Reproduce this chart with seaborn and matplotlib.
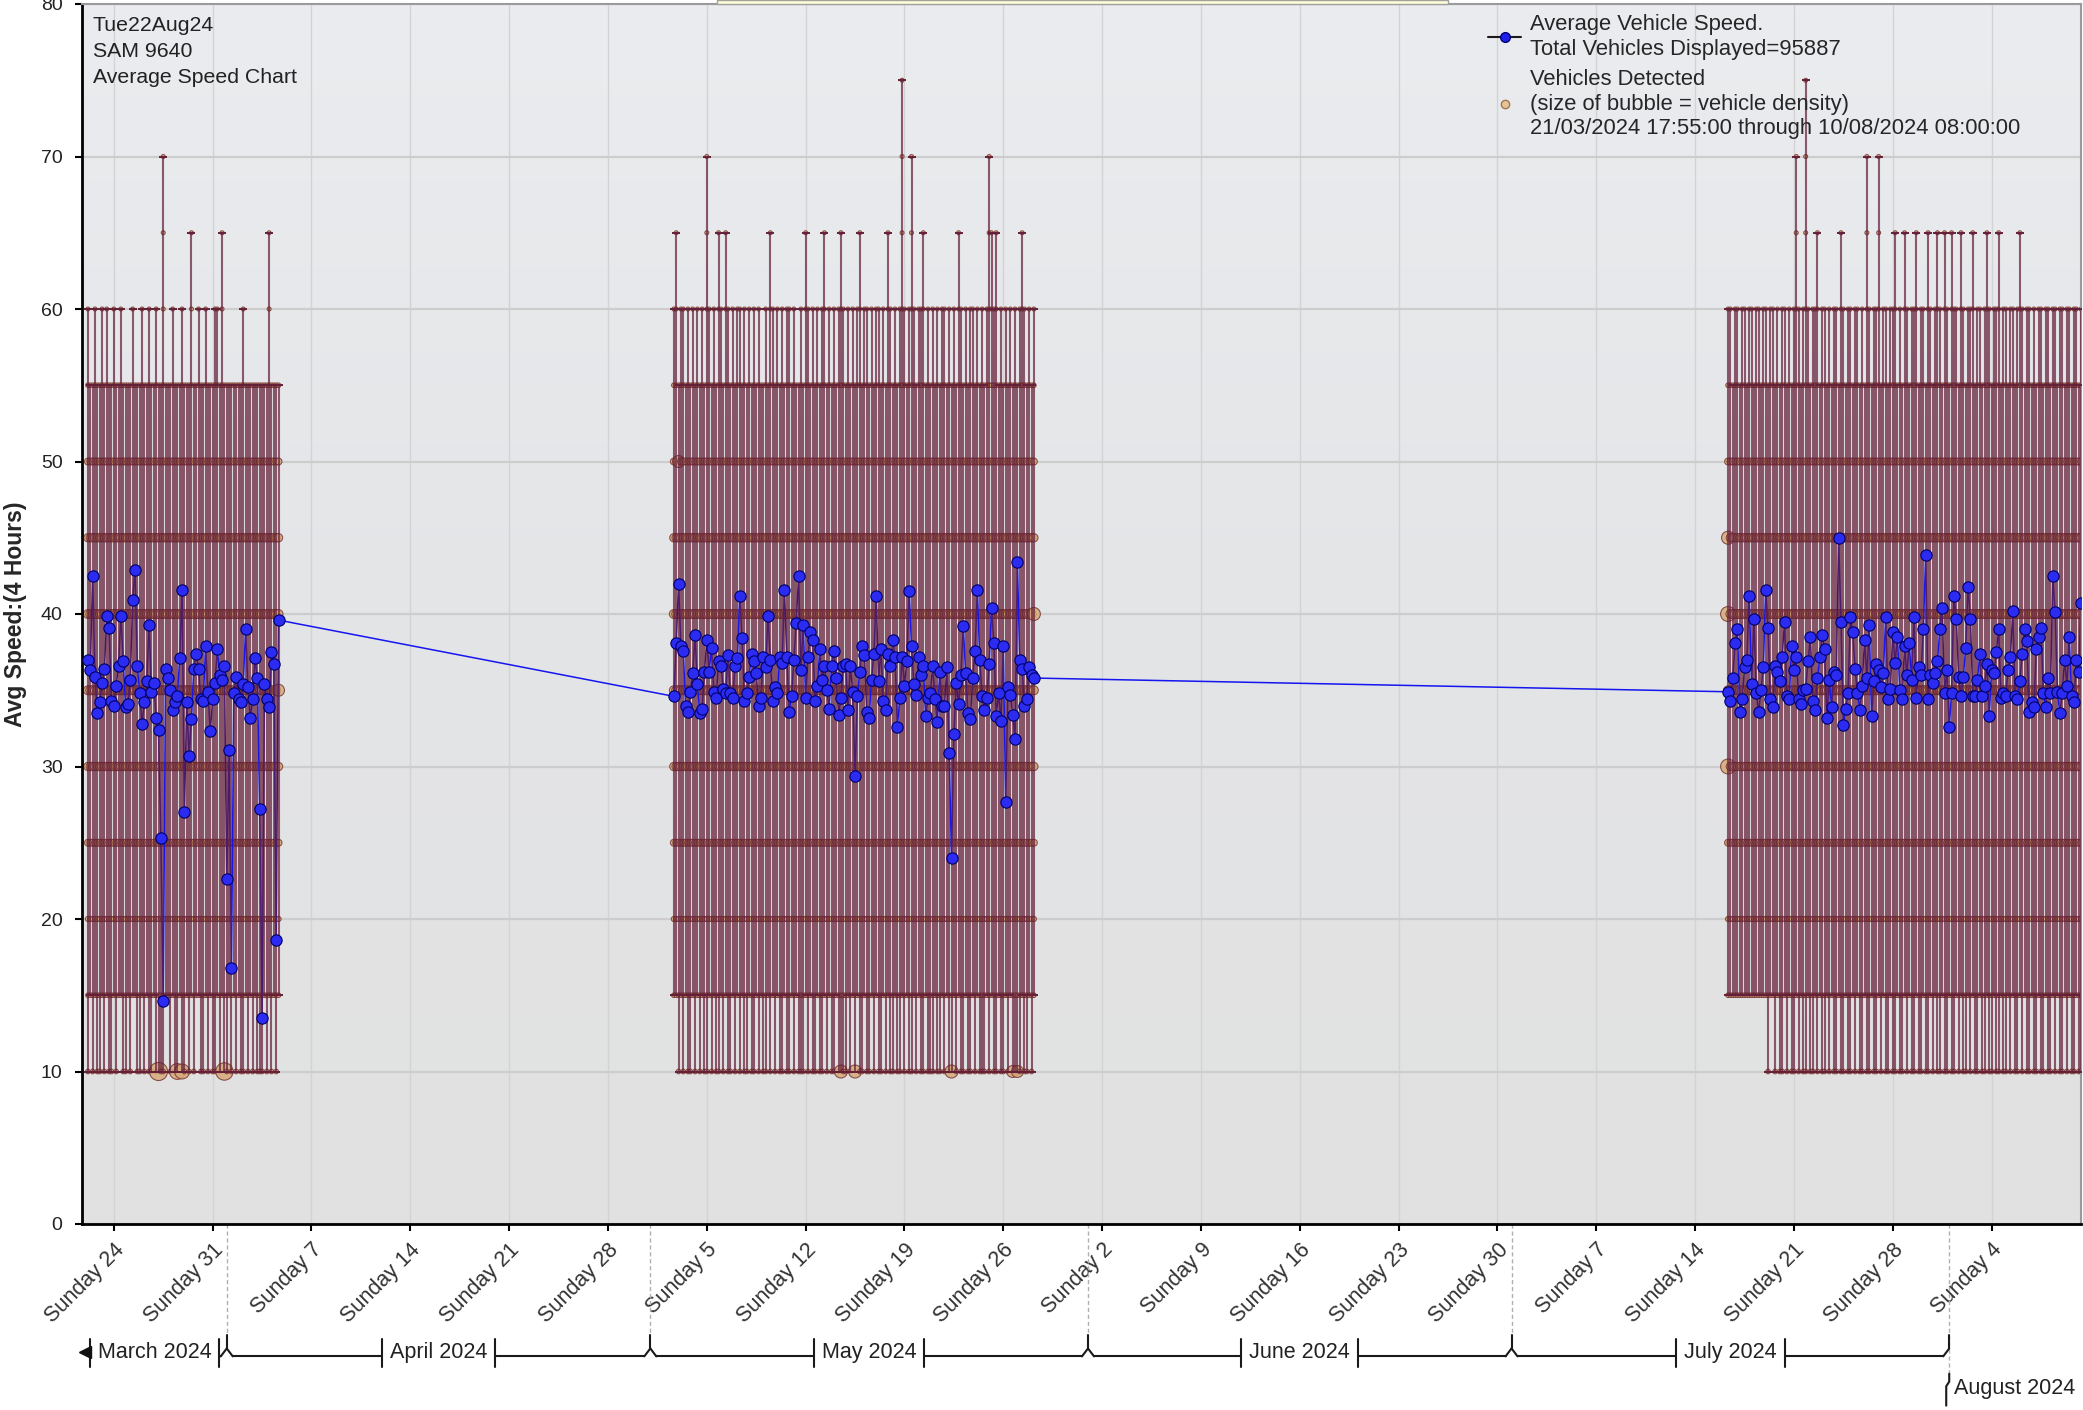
import numpy as np
import pandas as pd
import seaborn as sns
import matplotlib.pyplot as plt
import matplotlib.dates as mdates
import matplotlib.transforms as mtransforms
from matplotlib.colors import LinearSegmentedColormap
from matplotlib.lines import Line2D
from matplotlib.patches import Rectangle
from matplotlib.ticker import FuncFormatter

# ---- values, one value per 4 hour bin ----
x_start = '2024-03-21 17:55'
x_end = '2024-08-10 08:00'

c1_start = '2024-03-22 04:00'
c1_avg = [37.0, 36.3, 42.5, 35.9, 33.5, 34.2, 35.5, 36.4, 39.9, 39.1,
          34.3, 34.0, 35.3, 36.6, 39.9, 36.9, 33.9, 34.1, 35.7, 40.9,
          42.9, 36.6, 34.8, 32.8, 34.2, 35.6, 39.3, 34.9, 35.5, 33.2,
          32.4, 25.3, 14.6, 36.4, 35.8, 35.0, 33.7, 34.2, 34.6, 37.1,
          41.6, 27.0, 34.2, 30.7, 33.1, 36.4, 37.4, 36.4, 34.4, 34.3,
          37.9, 34.9, 32.3, 34.4, 35.5, 37.7, 36.0, 35.7, 36.6, 22.6,
          31.1, 16.8, 34.8, 35.9, 34.4, 34.2, 35.4, 39.0, 35.2, 33.2,
          34.4, 37.1, 35.8, 27.2, 13.5, 35.4, 34.4, 33.9, 37.5, 36.7,
          18.6, 39.6]
c1_lo = [10, 15, 10, 15, 10, 10, 15, 10, 15, 10,
         10, 15, 10, 15, 15, 10, 10, 15, 10, 15,
         15, 10, 10, 15, 10, 15, 10, 10, 15, 10,
         10, 10, 10, 15, 15, 10, 15, 10, 10, 15,
         10, 10, 15, 10, 15, 10, 15, 15, 10, 10,
         15, 10, 15, 10, 10, 15, 10, 15, 10, 10,
         15, 10, 15, 10, 15, 10, 10, 15, 10, 15,
         10, 15, 10, 10, 10, 15, 10, 15, 10, 15,
         10, 15]
c1_hi = [60, 55, 55, 60, 55, 55, 60, 55, 60, 55,
         55, 60, 55, 55, 60, 55, 55, 55, 55, 60,
         55, 55, 55, 60, 55, 55, 60, 55, 55, 60,
         55, 55, 70, 55, 55, 55, 60, 55, 55, 55,
         60, 55, 55, 55, 65, 55, 55, 60, 55, 55,
         60, 55, 55, 55, 60, 60, 55, 65, 55, 55,
         55, 55, 55, 55, 55, 55, 60, 55, 55, 55,
         55, 55, 55, 55, 55, 55, 55, 65, 55, 55,
         55, 55]

c2_start = '2024-05-02 16:00'
c2_avg = [34.6, 38.1, 42.0, 37.9, 37.6, 34.0, 33.6, 34.9, 36.1, 38.6, 35.4,
          33.5, 33.8, 36.2, 38.3, 36.2, 37.8, 34.9, 34.5, 36.9, 36.6, 35.1,
          34.8, 37.3, 34.8, 34.5, 36.6, 37.1, 41.2, 38.4, 34.3, 34.8, 35.9,
          37.4, 36.9, 36.1, 34.0, 34.5, 37.2, 36.5, 39.9, 37.0, 34.3, 35.2,
          34.8, 37.2, 36.8, 41.6, 37.2, 33.6, 34.6, 37.0, 39.4, 42.5, 36.3,
          39.3, 34.5, 37.2, 38.8, 38.3, 34.3, 35.3, 37.7, 35.7, 36.6, 35.0,
          33.8, 36.6, 37.6, 35.8, 33.4, 34.5, 36.6, 36.7, 33.7, 36.6, 34.9,
          29.4, 34.6, 36.2, 37.9, 37.3, 33.6, 33.2, 35.7, 37.4, 41.2, 35.6,
          37.7, 34.3, 33.7, 37.4, 36.6, 38.3, 37.2, 32.6, 34.5, 37.2, 35.3,
          36.9, 41.5, 37.9, 35.4, 34.7, 37.2, 36.0, 36.6, 33.3, 34.5, 34.8,
          36.6, 34.4, 32.9, 36.2, 34.0, 34.0, 36.5, 30.9, 24.0, 32.1, 35.5,
          34.1, 36.0, 39.2, 36.1, 33.5, 33.1, 35.8, 37.6, 41.6, 37.0, 34.6,
          33.7, 34.5, 36.7, 40.4, 38.1, 33.3, 34.8, 33.0, 37.9, 27.7, 35.2,
          34.7, 33.4, 31.8, 43.4, 37.0, 36.4, 34.0, 34.4, 36.5, 36.0, 35.8]
c2_lo = [15, 15, 10, 15, 10, 15, 10, 10, 15, 10, 15,
         10, 15, 10, 10, 15, 10, 15, 10, 10, 15, 10,
         15, 10, 10, 15, 10, 15, 10, 15, 10, 10, 15,
         10, 10, 15, 10, 15, 10, 10, 15, 10, 15, 10,
         15, 10, 10, 15, 10, 10, 15, 10, 15, 10, 10,
         10, 15, 10, 15, 10, 10, 15, 10, 10, 15, 10,
         15, 10, 10, 15, 10, 10, 10, 10, 15, 10, 15,
         10, 15, 10, 10, 15, 10, 10, 15, 10, 15, 10,
         10, 15, 10, 15, 10, 10, 15, 10, 10, 15, 10,
         15, 10, 10, 15, 10, 15, 10, 10, 15, 10, 10,
         10, 15, 10, 10, 15, 10, 15, 10, 10, 15, 10,
         15, 10, 10, 15, 10, 10, 15, 10, 15, 10, 10,
         10, 15, 10, 15, 10, 10, 15, 10, 10, 15, 10,
         15, 10, 10, 10, 10, 15, 10, 10, 15, 10, 15]
c2_hi = [60, 65, 55, 60, 60, 55, 60, 55, 60, 55, 60,
         55, 60, 55, 70, 60, 55, 60, 55, 65, 60, 55,
         65, 60, 55, 60, 55, 60, 60, 55, 60, 55, 60,
         55, 60, 55, 60, 55, 55, 60, 55, 65, 60, 55,
         60, 55, 60, 55, 60, 60, 55, 60, 55, 55, 60,
         55, 65, 60, 55, 60, 55, 60, 55, 60, 65, 55,
         60, 55, 60, 55, 60, 65, 60, 55, 60, 55, 60,
         55, 60, 65, 55, 60, 60, 55, 60, 55, 60, 60,
         55, 60, 55, 65, 60, 55, 60, 55, 60, 75, 60,
         55, 60, 70, 60, 55, 60, 60, 65, 55, 60, 55,
         60, 55, 60, 55, 60, 60, 55, 60, 55, 60, 55,
         65, 60, 55, 60, 55, 60, 60, 55, 60, 55, 60,
         55, 60, 70, 65, 60, 65, 55, 60, 55, 60, 55,
         60, 55, 60, 55, 60, 65, 60, 55, 60, 55, 60]

c3_start = '2024-07-16 08:00'
c3_avg = [34.9, 34.3, 35.8, 38.1, 39.0, 33.6, 34.4, 36.5, 37.0, 41.2, 35.4,
          39.7, 34.8, 33.6, 35.0, 36.5, 41.6, 39.1, 34.4, 33.9, 36.6, 36.2,
          35.6, 37.2, 39.5, 34.6, 34.4, 37.9, 36.3, 37.2, 34.4, 34.1, 35.0,
          35.1, 36.9, 38.5, 34.3, 33.7, 35.8, 37.2, 38.6, 37.7, 33.2, 35.7,
          33.9, 36.2, 36.0, 45.0, 39.5, 32.7, 33.8, 34.8, 39.8, 38.8, 36.4,
          34.8, 33.7, 35.3, 38.3, 35.8, 39.3, 33.3, 35.6, 36.7, 36.3, 35.2,
          36.1, 39.8, 34.4, 35.1, 38.8, 36.8, 38.5, 35.0, 34.4, 37.9, 36.0,
          38.1, 35.7, 39.8, 34.5, 36.5, 36.0, 39.0, 43.9, 34.4, 36.0, 35.5,
          36.1, 36.9, 39.0, 40.4, 34.8, 36.3, 32.6, 34.8, 41.2, 39.7, 35.9,
          34.6, 35.9, 37.8, 41.8, 39.7, 34.6, 34.6, 35.7, 37.4, 34.6, 35.3,
          36.7, 33.3, 36.3, 36.1, 37.5, 39.0, 34.5, 34.8, 34.6, 36.3,
          37.2, 40.2, 34.6, 34.4, 35.6, 37.4, 39.0, 38.2, 33.6, 34.2,
          33.9, 37.7, 38.5, 39.1, 34.8, 33.9, 35.8, 34.8, 42.5, 40.1,
          34.9, 33.5, 34.8, 37.0, 35.3, 38.5, 34.6, 34.2, 37.0, 36.2,
          40.7]
c3_lo = [15, 15, 15, 15, 15, 15, 15, 15, 15, 15,
         15, 15, 15, 15, 15, 15, 15, 10, 15, 15,
         10, 15, 10, 10, 15, 10, 15, 10, 10, 15,
         10, 15, 10, 10, 15, 10, 10, 15, 10, 15,
         10, 10, 15, 10, 15, 10, 10, 15, 10, 10,
         15, 10, 10, 15, 10, 15, 10, 10, 15, 10,
         10, 15, 10, 10, 15, 10, 15, 10, 10, 15,
         10, 10, 15, 10, 10, 15, 10, 15, 10, 10,
         15, 10, 10, 15, 10, 10, 15, 10, 15, 10,
         10, 15, 10, 10, 15, 10, 10, 15, 10, 15,
         10, 10, 15, 10, 15, 10, 10, 15, 10, 10,
         15, 10, 10, 15, 10, 10, 15, 10, 10, 15,
         10, 15, 10, 10, 15, 10, 15, 10, 10, 15,
         10, 10, 15, 10, 10, 15, 10, 10, 15, 10,
         15, 10, 10, 15, 10, 15, 10, 10, 15, 10,
         10]
c3_hi = [60, 60, 55, 60, 60, 55, 60, 60, 55, 60,
         60, 55, 60, 60, 55, 60, 60, 55, 60, 60,
         55, 60, 55, 60, 60, 55, 60, 55, 60, 70,
         60, 55, 60, 75, 60, 55, 60, 60, 65, 55,
         60, 60, 55, 60, 55, 60, 60, 55, 65, 60,
         55, 60, 60, 55, 60, 60, 55, 60, 55, 70,
         60, 55, 60, 60, 70, 55, 60, 60, 55, 60,
         60, 65, 55, 60, 55, 65, 60, 55, 60, 60,
         65, 55, 60, 60, 55, 65, 60, 55, 60, 65,
         60, 55, 65, 60, 55, 65, 60, 60, 55, 65,
         60, 55, 60, 60, 65, 55, 60, 60, 55, 60,
         65, 60, 55, 60, 60, 65, 55, 60, 60, 55,
         60, 60, 55, 60, 65, 60, 55, 60, 60, 55,
         60, 55, 60, 60, 55, 60, 60, 55, 60, 60,
         55, 60, 60, 55, 60, 60, 55, 60, 60, 55,
         60]

# typical vehicles per speed bucket (bubble size) and the few big bubbles
levels = [10, 15, 20, 25, 30, 35, 40, 45, 50, 55, 60, 65, 70, 75]
level_counts = [2, 2, 3, 7, 11, 13, 13, 11, 7, 2, 1, 1, 1, 1]
big_bubbles = [(1, 30, 10, 60), (1, 38, 10, 45), (1, 40, 10, 40), (1, 58, 10, 55),
               (1, 81, 35, 25), (2, 71, 10, 30), (2, 77, 10, 30), (2, 118, 10, 30),
               (2, 144, 10, 25), (2, 146, 10, 25), (2, 153, 40, 30), (2, 2, 50, 25),
               (3, 0, 30, 40), (3, 0, 40, 40), (3, 0, 45, 30)]

info_text = 'Tue22Aug24\nSAM 9640\nAverage Speed Chart'
legend_speed = 'Average Vehicle Speed.\nTotal Vehicles Displayed=95887'
legend_bubble = ('Vehicles Detected\n(size of bubble = vehicle density)\n'
                 '21/03/2024 17:55:00 through 10/08/2024 08:00:00')

# ---- build tables ----
frames = []
for n, (start, avg, lo, hi) in enumerate([(c1_start, c1_avg, c1_lo, c1_hi),
                                          (c2_start, c2_avg, c2_lo, c2_hi),
                                          (c3_start, c3_avg, c3_lo, c3_hi)], 1):
    frames.append(pd.DataFrame({'time': pd.date_range(start, periods=len(avg), freq='4h'),
                                'avg': avg, 'lo': lo, 'hi': hi, 'cluster': n,
                                'bin': range(len(avg))}))
df = pd.concat(frames, ignore_index=True)

rows = []
for r in df.itertuples():
    for lev, cnt in zip(levels, level_counts):
        if r.lo <= lev <= r.hi:
            rows.append((r.cluster, r.bin, r.time, lev, cnt))
bub = pd.DataFrame(rows, columns=['cluster', 'bin', 'time', 'level', 'count'])
for cl, b, lev, cnt in big_bubbles:
    m = (bub.cluster == cl) & (bub.bin == b) & (bub.level == lev)
    bub.loc[m, 'count'] = cnt

# ---- plot ----
sns.set_theme(style='white')
plt.rcParams['font.family'] = ['Liberation Sans', 'DejaVu Sans']

fig = plt.figure(figsize=(20.83, 14.10), dpi=100)
ax = fig.add_axes([82 / 2083, 186 / 1410, 1999 / 2083, 1220 / 1410])

sns.scatterplot(data=bub, x='time', y='level', size='count', sizes=(8, 170), size_norm=(1, 60),
                color='#D6AA7A', edgecolor='#7A3A35', linewidth=0.8, alpha=0.85,
                legend=False, zorder=2, ax=ax)
sns.lineplot(data=df, x='time', y='avg', sort=False, estimator=None, color='#1515F0',
             lw=1.1, zorder=2.5, ax=ax)
ax.vlines(df['time'], df['lo'], df['hi'], colors='#652039', alpha=0.72, lw=1.5, zorder=3)
ax.scatter(df['time'], df['hi'], marker='_', s=30, color='#652039', lw=1.4, zorder=3.5)
ax.scatter(df['time'], df['lo'], marker='_', s=30, color='#652039', lw=1.4, zorder=3.5)
sns.scatterplot(data=df, x='time', y='avg', s=66, color='#2B2BF2', edgecolor='#000066',
                linewidth=0.8, zorder=6, ax=ax)

bg = LinearSegmentedColormap.from_list('bg', ['#E1E1E1', '#E4E5E7', '#EAECEF'])
ax.imshow(np.linspace(0, 1, 256).reshape(-1, 1), extent=(0, 1, 0, 1), transform=ax.transAxes,
          cmap=bg, origin='lower', aspect='auto', zorder=0)

ax.set_xlim(pd.Timestamp(x_start), pd.Timestamp(x_end))
ax.set_ylim(0, 80)
ax.set_yticks(range(0, 81, 10))
ax.xaxis.set_major_locator(mdates.WeekdayLocator(byweekday=mdates.SU))
ax.xaxis.set_major_formatter(FuncFormatter(lambda v, p: 'Sunday %d' % mdates.num2date(v).day))
ax.grid(True, axis='x', color='#D3D3D3', lw=1.0)
ax.grid(True, axis='y', color='#CDCDCD', lw=1.6)

ax.tick_params(axis='both', bottom=True, left=True, direction='out', length=5, width=1.5,
               color='black')
ax.tick_params(axis='y', labelsize=14, pad=9, labelcolor='#222222')
ax.tick_params(axis='x', labelsize=15.5, pad=6, labelcolor='#333333')
plt.setp(ax.get_xticklabels(), rotation=45, ha='right', rotation_mode='anchor')

for side in ['left', 'bottom']:
    ax.spines[side].set_color('black')
    ax.spines[side].set_linewidth(2)
for side in ['top', 'right']:
    ax.spines[side].set_color('#9A9A9A')
    ax.spines[side].set_linewidth(1.5)

ax.set_xlabel('')
ax.set_ylabel('Avg Speed:(4 Hours)', fontsize=16.5, fontweight='bold')
ax.yaxis.set_label_coords(-0.0275, 0.5)

ax.text(0.0055, 0.990, info_text, transform=ax.transAxes, ha='left', va='top',
        fontsize=15.3, linespacing=1.45, color='#222222', zorder=7)

handles = [Line2D([], [], color='#1a1a1a', lw=1.5, marker='o', ms=7,
                  mfc='#2020E8', mec='#000070'),
           Line2D([], [], ls='', marker='o', ms=6, mfc='#E6C497', mec='#A07850')]
ax.legend(handles, [legend_speed, legend_bubble], loc='upper left',
          bbox_to_anchor=(0.7034, 0.9915), frameon=False, fontsize=15.8, borderpad=0,
          borderaxespad=0, handlelength=1.5, handletextpad=0.4, labelspacing=0.45)

# yellow strip at the top
fig.patches.append(Rectangle((717 / 2083, 1406 / 1410), 731 / 2083, 4 / 1410,
                             transform=fig.transFigure, facecolor='#FFFFD6',
                             edgecolor='#A0A0A0', lw=1))

# ---- month brackets under the date labels ----
fig.canvas.draw()
renderer = fig.canvas.get_renderer()
x0 = mdates.date2num(pd.Timestamp(x_start))
x1 = mdates.date2num(pd.Timestamp(x_end))
px = (x1 - x0) / ax.get_window_extent().width
trans = mtransforms.blended_transform_factory(ax.transData, ax.transAxes)
kw = dict(color='#1a1a1a', lw=1.5, transform=trans, clip_on=False)
gap, d = 8 * px, 6 * px
Y_TOP, Y_PEAK, Y_LINE, Y_TXT = -0.0911, -0.1020, -0.1085, -0.1053
T_HI, T_LO = -0.0943, -0.1172
month_fs = 15.5

month_starts = pd.date_range('2024-03-01', '2024-09-01', freq='MS')
for s, e in zip(month_starts[:-1], month_starts[1:]):
    sn, en = mdates.date2num(s), mdates.date2num(e)
    if en <= x0 or sn >= x1:
        continue
    name = s.strftime('%B %Y')
    sc, ec = max(sn, x0), min(en, x1)
    t = ax.text(0, 0, name, fontsize=month_fs)
    w = t.get_window_extent(renderer).width * px
    t.remove()
    if sn > x0:
        row2 = ec - sc < w + 2 * gap + 2 * d
        ax.plot([sn, sn], [0, -0.1227 if row2 else Y_TOP], color='#B0B0B0', lw=1,
                ls=(0, (3, 2)), transform=trans, clip_on=False)
        ax.plot([sn, sn], [Y_TOP, Y_PEAK], **kw)
        ax.plot([sn - d, sn], [Y_LINE, Y_PEAK], **kw)
        if row2:
            ax.plot([sn, sn, sn - 3 * px, sn - 3 * px], [-0.1227, -0.1292, -0.1330, -0.1489], **kw)
            ax.text(sn + 5 * px, -0.1345, name, transform=trans, ha='left', va='center',
                    fontsize=month_fs, color='#222222')
            continue
        ax.plot([sn, sn + d], [Y_PEAK, Y_LINE], **kw)
    cx = (sc + ec) / 2
    ax.text(cx, Y_TXT, name, transform=trans, ha='center', va='center', fontsize=month_fs,
            color='#222222')
    left, right = cx - w / 2 - gap, cx + w / 2 + gap
    ax.plot([left, left], [T_HI, T_LO], **kw)
    ax.plot([right, right], [T_HI, T_LO], **kw)
    if sn < x0:
        ax.plot([left - 5 * px], [Y_TXT], marker='<', ms=9, color='#111111', transform=trans,
                clip_on=False)
    else:
        ax.plot([sn + d, left], [Y_LINE, Y_LINE], **kw)
    if en <= x1:
        ax.plot([right, en - d], [Y_LINE, Y_LINE], **kw)

fig.savefig('out.png', dpi=100)
